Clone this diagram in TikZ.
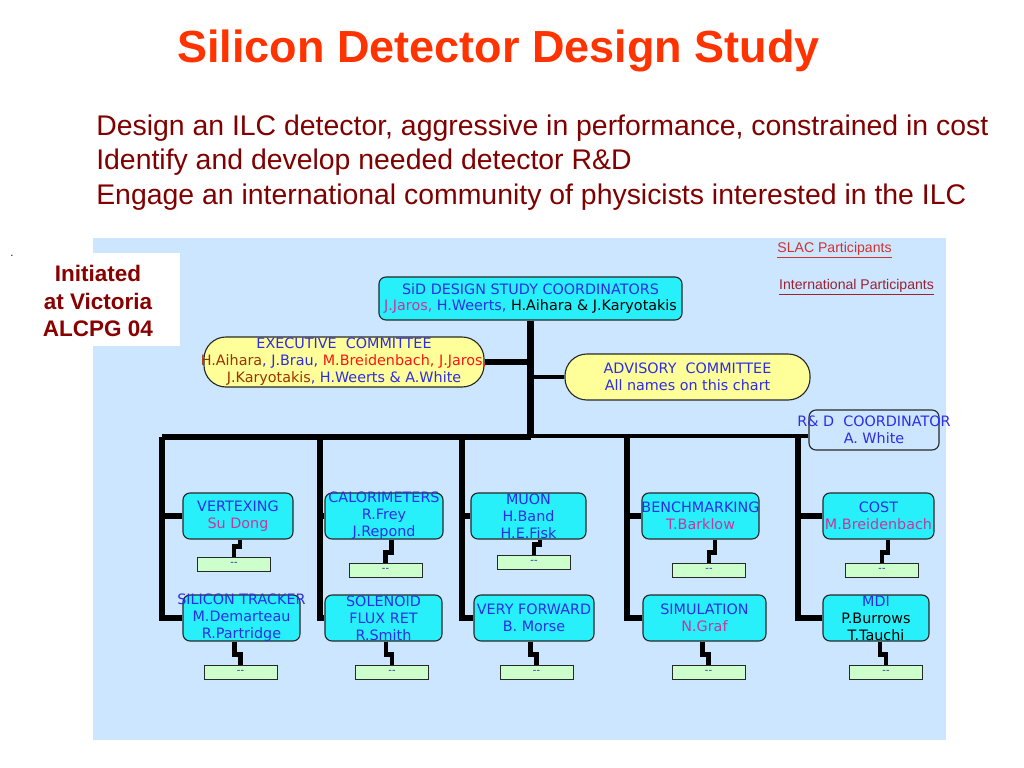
\documentclass[tikz,border=0pt]{standalone}
\usepackage{fontspec}
\setmainfont{Liberation Sans}
\newfontfamily\chartfont{DejaVu Sans}
\usetikzlibrary{calc}

\definecolor{titlered}{RGB}{255,51,0}
\definecolor{aimred}{RGB}{128,0,0}
\definecolor{initred}{RGB}{136,0,0}
\definecolor{panelblue}{RGB}{204,230,255}
\definecolor{teamcyan}{RGB}{40,240,250}
\definecolor{pillyellow}{RGB}{255,255,153}
\definecolor{slotgreen}{RGB}{204,255,204}
\definecolor{boxline}{RGB}{40,40,40}
\definecolor{txtblue}{RGB}{45,45,230}
\definecolor{namemag}{RGB}{204,51,153}
\definecolor{namebrown}{RGB}{153,51,0}
\definecolor{namered}{RGB}{255,20,20}
\definecolor{slacred}{RGB}{204,51,51}
\definecolor{intlred}{RGB}{153,34,51}
\definecolor{navy}{RGB}{0,0,128}

\begin{document}
\begin{tikzpicture}[x=0.025cm, y=-0.025cm,
    chart/.style={font=\chartfont\fontsize{10.2}{12}\selectfont, text=txtblue, align=center, inner sep=0pt},
    team/.style={draw=boxline, line width=0.8pt, fill=teamcyan, rounded corners=5pt, minimum height=1.15cm},
    pill/.style={draw=boxline, line width=0.8pt, fill=pillyellow, rounded corners=0.55cm},
    slot/.style={draw=boxline, line width=0.6pt, fill=slotgreen, minimum width=1.825cm, minimum height=0.35cm,
                 inner sep=0pt, font=\chartfont\fontsize{7}{7}\selectfont, text=txtblue!70!black},
    aim/.style={anchor=base west, inner sep=0pt, text=aimred, font=\fontsize{20.2}{24}\selectfont},
    bus/.style={line width=4.5pt},
    thinbus/.style={line width=2.2pt},
    zig/.style={line width=3.5pt}]
    \useasboundingbox (0,0) rectangle (1024,768);

    % Panel behind the chart
    \fill[panelblue] (93,238) rectangle (946,740);
    \fill[white] (93,253) rectangle (180,346);

    % Title and aims
    \node[anchor=base, text=titlered, font=\bfseries\fontsize{32}{38}\selectfont] (title) at (498.5,63) {Silicon Detector Design Study};
    \node[aim] (aim1) at (96,136) {Design an ILC detector, aggressive in performance, constrained in cost};
    \node[aim] (aim2) at (96,170) {Identify and develop needed detector R\&D};
    \node[aim] (aim3) at (96,204) {Engage an international community of physicists interested in the ILC};

    \node[text=navy, font=\fontsize{8}{8}\selectfont] (dot) at (12,256) {.};
    \node[align=center, text=initred, font=\bfseries\fontsize{16}{19.5}\selectfont] (init) at (98,301) {Initiated\\at Victoria\\ALCPG 04};

    \node[text=slacred, font=\fontsize{10}{12}\selectfont] (slac) at (834.5,250) {\underline{SLAC Participants}};
    \node[text=intlred, font=\fontsize{10}{12}\selectfont] (intl) at (856.5,287) {\underline{International Participants}};

    % Coordinators and committees
    \node[team, minimum width=7.575cm, minimum height=1.075cm] (coord) at (530.5,298.5) {};
    \node[chart] (coordt) at (coord) {SiD DESIGN STUDY COORDINATORS\\{\color{namemag}J.Jaros,} H.Weerts, {\color{black}H.Aihara \& J.Karyotakis}};
    \node[pill, minimum width=7cm, minimum height=1.25cm] (exec) at (344,362) {};
    \node[chart] (exect) at (exec) {EXECUTIVE\ \ COMMITTEE\\{\color{namebrown}H.Aihara}, J.Brau, {\color{namered}M.Breidenbach, J.Jaros,}\\{\color{namebrown}J.Karyotakis}, H.Weerts \& A.White};
    \node[pill, minimum width=6.125cm, minimum height=1.15cm] (adv) at (687.5,377) {};
    \node[chart] (advt) at (adv) {ADVISORY\ \ COMMITTEE\\All names on this chart};
    \node[team, fill=panelblue, minimum width=3.25cm, minimum height=1cm] (rnd) at (874,430) {};
    \node[chart] (rndt) at (rnd) {R\& D\ \ COORDINATOR\\A. White};

    % Working groups, upper row
    \node[team, minimum width=2.75cm] (vtx) at (238,516) {};
    \node[chart] (vtxt) at (vtx) {VERTEXING\\{\color{namemag}Su Dong}};
    \node[team, minimum width=2.95cm] (cal) at (384,516) {};
    \node[chart] (calt) at (cal) {CALORIMETERS\\R.Frey\\J.Repond};
    \node[team, minimum width=2.875cm] (muon) at (528.5,516) {};
    \node[chart] (muont) at (muon) {MUON\\H.Band\\H.E.Fisk};
    \node[team, minimum width=2.925cm] (bench) at (700.5,516) {};
    \node[chart] (bencht) at (bench) {BENCHMARKING\\{\color{namemag}T.Barklow}};
    \node[team, minimum width=2.775cm] (cost) at (878.5,516) {};
    \node[chart] (costt) at (cost) {COST\\{\color{namemag}M.Breidenbach}};

    % Working groups, lower row
    \node[team, minimum width=2.925cm] (trk) at (241.5,618) {};
    \node[chart] (trkt) at (trk) {SILICON TRACKER\\M.Demarteau\\R.Partridge};
    \node[team, minimum width=2.925cm] (sol) at (383.5,618) {};
    \node[chart] (solt) at (sol) {SOLENOID\\FLUX RET\\R.Smith};
    \node[team, minimum width=3cm] (vfw) at (534,618) {};
    \node[chart] (vfwt) at (vfw) {VERY FORWARD\\B. Morse};
    \node[team, minimum width=3.075cm] (sim) at (704.5,618) {};
    \node[chart] (simt) at (sim) {SIMULATION\\{\color{namemag}N.Graf}};
    \node[team, minimum width=2.65cm] (mdi) at (876,618) {};
    \node[chart] (mdit) at (mdi) {MDI\\{\color{black}P.Burrows}\\{\color{black}T.Tauchi}};

    % Empty slots under each group
    \node[slot] (vtxs) at (234,564) {{-}{-}};
    \node[slot] (cals) at (385.5,570) {{-}{-}};
    \node[slot] (muons) at (534,562) {{-}{-}};
    \node[slot] (benchs) at (709,570) {{-}{-}};
    \node[slot] (costs) at (882,570) {{-}{-}};
    \node[slot] (trks) at (240.5,672) {{-}{-}};
    \node[slot] (sols) at (392,672) {{-}{-}};
    \node[slot] (vfws) at (536.5,672) {{-}{-}};
    \node[slot] (sims) at (708.5,672) {{-}{-}};
    \node[slot] (mdis) at (886,672) {{-}{-}};

    % Tree
    \coordinate (col1) at (162,437);
    \coordinate (col2) at (320,437);
    \coordinate (col3) at (462,437);
    \coordinate (col4) at (627,436);
    \coordinate (col5) at (798,436);
    \draw[bus] (coord.south) -- (coord.south |- col1) coordinate (hub);
    \draw[bus] (col1) -- (hub);
    \draw[thinbus] (hub |- col4) -- (rnd.west |- col4);
    \draw[bus] (exec.east) -- (exec.east -| hub);
    \draw[thinbus] (adv.west) -- (adv.west -| hub);
    \draw[bus] (col1) |- (trk.west);
    \draw[bus] (col1 |- vtx.west) -- (vtx.west);
    \draw[bus] (col2) |- (sol.west);
    \draw[bus] (col2 |- cal.west) -- (cal.west);
    \draw[bus] (col3) |- (vfw.west);
    \draw[bus] (col3 |- muon.west) -- (muon.west);
    \draw[bus] (col4) |- (sim.west);
    \draw[bus] (col4 |- bench.west) -- (bench.west);
    \draw[bus] (col5) |- (mdi.west);
    \draw[bus] (col5 |- cost.west) -- (cost.west);

    % Steps down to the slots
    \foreach \g/\s/\d in {vtx/vtxs/6, cal/cals/6, muon/muons/6, bench/benchs/6, cost/costs/6,
                          trk/trks/-6, sol/sols/-6, vfw/vfws/-6, sim/sims/-6, mdi/mdis/-6}
      \draw[zig] (\s.north) -- ++(0,-10) -- ++(\d,0) coordinate (j) -- (j |- \g.south);
\end{tikzpicture}
\end{document}
